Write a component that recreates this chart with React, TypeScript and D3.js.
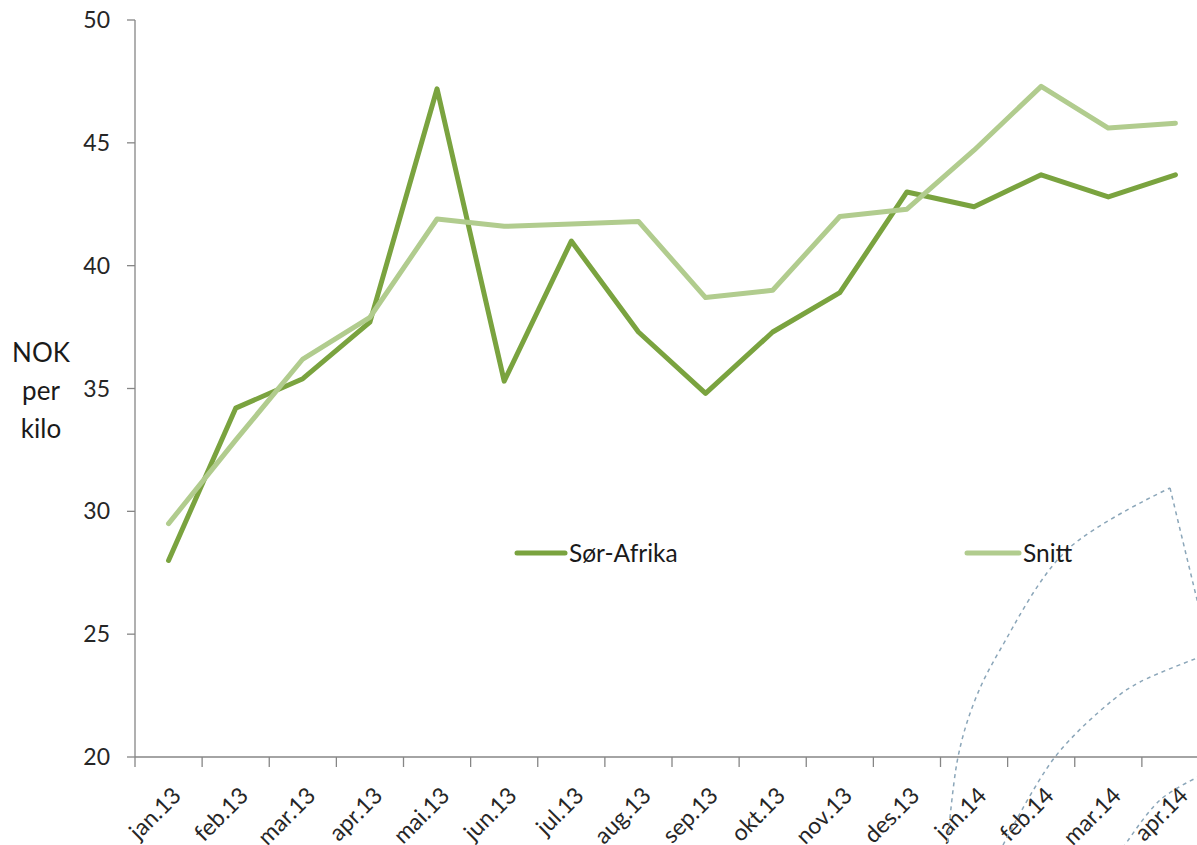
import React from 'react'
import * as d3 from 'd3'

const months = ['jan.13', 'feb.13', 'mar.13', 'apr.13', 'mai.13', 'jun.13', 'jul.13', 'aug.13',
  'sep.13', 'okt.13', 'nov.13', 'des.13', 'jan.14', 'feb.14', 'mar.14', 'apr.14']
const sorAfrika = [28.0, 34.2, 35.4, 37.7, 47.2, 35.3, 41.0, 37.3, 34.8, 37.3, 38.9, 43.0, 42.4, 43.7, 42.8, 43.7]
const snitt = [29.5, 32.9, 36.2, 37.9, 41.9, 41.6, 41.7, 41.8, 38.7, 39.0, 42.0, 42.3, 44.7, 47.3, 45.6, 45.8]
const yTicks = [20, 25, 30, 35, 40, 45, 50]

// decorative dashed outlines in the lower right corner
const deco1 = [[947, 850], [958, 757], [975, 700], [1000, 650], [1067, 550], [1170, 488]]
const deco1Edge = [[1170, 488], [1200, 612]]
const deco2 = [[1003, 845], [1055, 757], [1113, 700], [1140, 682], [1200, 657]]
const deco3 = [[1123, 848], [1160, 800], [1200, 776]]

const W = 1197
const H = 845
const FONT = 'Lato, "Noto Sans", sans-serif'
const DARK = '#7aa33f'
const LIGHT = '#b1cc8e'
const AXIS = '#868686'

export default function App() {
  const x = d3.scaleBand().domain(months).range([135, 1209])
  const y = d3.scaleLinear().domain([20, 50]).range([757, 20])
  const cx = (m: string) => (x(m) as number) + x.bandwidth() / 2

  const line = d3.line<number>()
    .x((_, i) => cx(months[i]))
    .y(d => y(d))
  const deco = d3.line().curve(d3.curveCatmullRom.alpha(0.5))
  const straight = d3.line()

  return (
    <svg width={W} height={H} style={{ position: 'absolute', left: 0, top: 0, background: '#fff' }}>
      {/* y axis */}
      <line x1={135} x2={135} y1={y(50)} y2={y(20)} stroke={AXIS} strokeWidth={1.3} />
      {yTicks.map(t => (
        <g key={t}>
          <line x1={127} x2={135} y1={y(t)} y2={y(t)} stroke={AXIS} strokeWidth={1.3} />
          <text x={110} y={y(t)} dy="0.35em" textAnchor="end" fontFamily={FONT} fontSize={23} fill="#262626">{t}</text>
        </g>
      ))}
      <text fontFamily={FONT} fontSize={26} fill="#1a1a1a" textAnchor="middle">
        <tspan x={41} y={362}>NOK</tspan>
        <tspan x={41} y={400}>per</tspan>
        <tspan x={41} y={438}>kilo</tspan>
      </text>

      {/* x axis */}
      <line x1={135} x2={1209} y1={757} y2={757} stroke={AXIS} strokeWidth={1.3} />
      {months.map(m => (
        <line key={'t' + m} x1={x(m)} x2={x(m)} y1={757} y2={767} stroke={AXIS} strokeWidth={1.3} />
      ))}
      {months.map(m => (
        <text key={'l' + m} transform={`translate(${cx(m) + 14},797) rotate(-45)`} textAnchor="end"
          fontFamily={FONT} fontSize={23} fill="#262626">{m}</text>
      ))}

      {/* decorations */}
      <g fill="none" stroke="#8ba6b9" strokeWidth={1.5} strokeDasharray="4 4">
        <path d={deco(deco1 as [number, number][]) || ''} />
        <path d={straight(deco1Edge as [number, number][]) || ''} />
        <path d={deco(deco2 as [number, number][]) || ''} />
        <path d={deco(deco3 as [number, number][]) || ''} />
      </g>

      {/* series */}
      <path d={line(sorAfrika) || ''} fill="none" stroke={DARK} strokeWidth={5} strokeLinejoin="round" strokeLinecap="round" />
      <path d={line(snitt) || ''} fill="none" stroke={LIGHT} strokeWidth={5} strokeLinejoin="round" strokeLinecap="round" />

      {/* legend */}
      <line x1={517} x2={565} y1={553} y2={553} stroke={DARK} strokeWidth={5} strokeLinecap="round" />
      <text x={569} y={553} dy="0.35em" fontFamily={FONT} fontSize={24.5} fill="#1a1a1a">Sør-Afrika</text>
      <line x1={967} x2={1019} y1={553} y2={553} stroke={LIGHT} strokeWidth={5} strokeLinecap="round" />
      <text x={1023} y={553} dy="0.35em" fontFamily={FONT} fontSize={24.5} fill="#1a1a1a">Snitt</text>
    </svg>
  )
}
